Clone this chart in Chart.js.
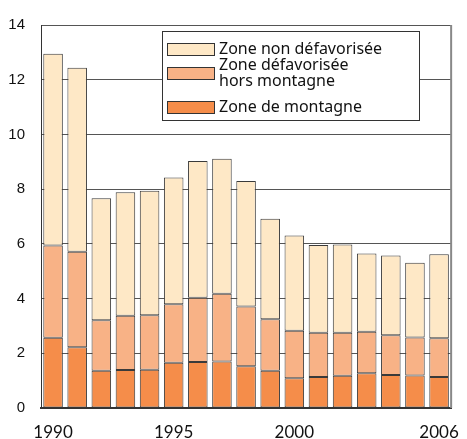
<!DOCTYPE html>
<html>
<head>
<meta charset="utf-8">
<script src="https://cdn.jsdelivr.net/npm/chart.js@4"></script>
<style>
  html, body { margin: 0; padding: 0; background: #fff; }
  #wrap { width: 467px; height: 439px; position: relative; }
</style>
</head>
<body>
<div id="wrap"><canvas id="graphique"></canvas></div>
<script>
// données (milliers)
const annees = ['1990','1991','1992','1993','1994','1995','1996','1997','1998','1999','2000','2001','2002','2003','2004','2005','2006'];
const zoneMontagne = [2.57, 2.22, 1.36, 1.39, 1.40, 1.65, 1.68, 1.70, 1.53, 1.36, 1.09, 1.13, 1.18, 1.27, 1.21, 1.19, 1.13];
const zoneHorsMontagne = [3.37, 3.49, 1.85, 1.98, 1.99, 2.14, 2.35, 2.48, 2.18, 1.88, 1.73, 1.62, 1.57, 1.52, 1.45, 1.39, 1.42];
const zoneNonDefav = [7.01, 6.73, 4.46, 4.52, 4.55, 4.64, 5.00, 4.93, 4.59, 3.68, 3.49, 3.21, 3.23, 2.86, 2.91, 2.73, 3.07];
const anneesAffichees = ['1990', '1995', '2000', '2006'];
const yMax = 14;
const yPas = 2;

// légende dessinée dans la zone du graphique
const legendeInterne = {
  id: 'legendeInterne',
  afterDraw(chart) {
    const ctx = chart.ctx;
    const x0 = 162, y0 = 31, w = 257, h = 89;
    ctx.save();
    ctx.fillStyle = '#fff';
    ctx.fillRect(x0, y0, w, h);
    ctx.strokeStyle = '#333';
    ctx.lineWidth = 1;
    ctx.strokeRect(x0 + 0.5, y0 + 0.5, w, h);
    const items = [
      { ds: 2, lignes: ['Zone non défavorisée'], y: 49 },
      { ds: 1, lignes: ['Zone défavorisée', 'hors montagne'], y: 73 },
      { ds: 0, lignes: ['Zone de montagne'], y: 107 }
    ];
    ctx.font = '16px "Noto Sans"';
    ctx.textBaseline = 'middle';
    items.forEach(it => {
      const ds = chart.data.datasets[it.ds];
      ctx.fillStyle = ds.backgroundColor;
      ctx.fillRect(167, it.y - 6, 47, 12);
      ctx.strokeStyle = '#333';
      ctx.strokeRect(167.5, it.y - 5.5, 47, 12);
      ctx.fillStyle = '#111';
      const n = it.lignes.length;
      it.lignes.forEach((t, i) => {
        ctx.fillText(t, 219, it.y + (i - (n - 1) / 2) * 16);
      });
    });
    ctx.restore();
  }
};

// cadre droit
const cadre = {
  id: 'cadre',
  beforeDatasetsDraw(chart) {
    const { ctx, chartArea } = chart;
    ctx.save();
    ctx.strokeStyle = '#888';
    ctx.lineWidth = 2;
    ctx.beginPath();
    ctx.moveTo(chartArea.right, chartArea.top);
    ctx.lineTo(chartArea.right, chartArea.bottom);
    ctx.stroke();
    ctx.restore();
  }
};

const ctx = document.getElementById('graphique').getContext('2d');
const graphique = new Chart(ctx, {
  type: 'bar',
  data: {
    labels: annees,
    datasets: [
      { label: 'Zone de montagne', data: zoneMontagne, backgroundColor: '#f58d4a' },
      { label: 'Zone défavorisée hors montagne', data: zoneHorsMontagne, backgroundColor: '#f8b286' },
      { label: 'Zone non défavorisée', data: zoneNonDefav, backgroundColor: '#fee8c6' }
    ]
  },
  options: {
    responsive: true,
    maintainAspectRatio: false,
    animation: false,
    layout: { padding: { top: 15, right: 7, left: 0, bottom: 0 } },
    datasets: {
      bar: {
        borderColor: '#3a3a3a',
        borderWidth: 1,
        borderSkipped: false,
        barPercentage: 0.81,
        categoryPercentage: 1
      }
    },
    plugins: {
      legend: { display: false },
      tooltip: { enabled: false }
    },
    scales: {
      x: {
        stacked: true,
        grid: { display: false },
        border: { display: true, color: '#333', width: 2 },
        afterFit(scale) { scale.height = 31; },
        ticks: {
          autoSkip: false,
          maxRotation: 0,
          padding: 8,
          color: '#111',
          font: { family: 'Lato', size: 17, lineHeight: 1 },
          callback: function(value) {
            const l = this.getLabelForValue(value);
            return anneesAffichees.includes(l) ? l : '';
          }
        }
      },
      y: {
        stacked: true,
        min: 0,
        max: yMax,
        afterFit(scale) { scale.width = 41; },
        grid: { color: '#555', lineWidth: 1, drawTicks: false },
        border: { display: true, color: '#333', width: 1 },
        ticks: {
          stepSize: yPas,
          padding: 16,
          color: '#111',
          font: { family: 'Liberation Sans', size: 15 }
        }
      }
    }
  },
  plugins: [cadre, legendeInterne]
});
</script>
</body>
</html>
